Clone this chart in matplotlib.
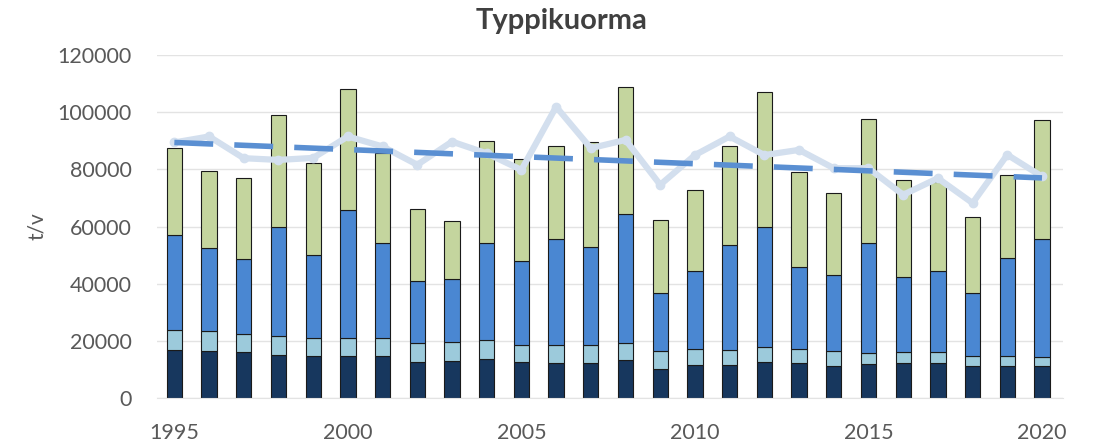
import matplotlib.pyplot as plt
import numpy as np

plt.rcParams['font.family'] = ['Lato', 'DejaVu Sans']

vuodet = list(range(1995, 2021))

# kuorman osat (t/v), alimmasta ylimpään
osa1 = [16900, 16500, 16000, 15100, 14600, 14800, 14600, 12500, 13000, 13700,
        12600, 12200, 12200, 13400, 10100, 11700, 11700, 12500, 12200, 11300,
        11900, 12200, 12200, 11100, 11100, 11100]
osa2 = [7000, 6800, 6500, 6700, 6400, 6200, 6400, 6700, 6500, 6700,
        6000, 6200, 6200, 5800, 6200, 5500, 5200, 5300, 4900, 5000,
        3800, 3900, 3900, 3700, 3700, 3200]
osa3 = [33200, 29100, 26200, 38000, 29100, 44800, 33200, 21900, 22200, 34000,
        29500, 37300, 34400, 45200, 20400, 27300, 36700, 42200, 28700, 26800,
        38700, 26200, 28500, 21900, 34100, 41400]
osa4 = [30300, 27100, 28400, 39200, 32000, 42300, 31400, 25000, 20100, 35500,
        35400, 32300, 36900, 44500, 25600, 28300, 34400, 47200, 33400, 28600,
        43100, 34000, 30900, 26800, 29200, 41600]

# vertailusarja ja sen lineaarinen trendi
vertailu = [89400, 91500, 83900, 83300, 84000, 91500, 88000, 81600, 89700, 85600,
            79800, 101900, 87400, 90300, 74600, 85000, 91500, 85000, 86800, 80400,
            80400, 71100, 76900, 68200, 85100, 77500]
trendi_alku, trendi_loppu = 89400, 77000

fig = plt.figure(figsize=(10.94, 4.43), dpi=100)
ax = fig.add_axes([0.1435, 0.1016, 0.828, 0.7742])

x = np.array(vuodet)
leveys = 0.44
reuna = dict(edgecolor='#1a1a1a', linewidth=0.8)
pohja = np.zeros(len(x))
for arvot, vari in [(osa1, '#17375e'), (osa2, '#9ccadb'),
                    (osa3, '#4a87d2'), (osa4, '#c4d59e')]:
    ax.bar(x, arvot, leveys, bottom=pohja, color=vari, zorder=2, **reuna)
    pohja = pohja + np.array(arvot)

ax.plot(x, vertailu, color='#d3dfee', linewidth=4.5, marker='o',
        markersize=6, zorder=3)
ax.plot([vuodet[0], vuodet[-1]], [trendi_alku, trendi_loppu], color='#5a8fd2',
        linewidth=4, linestyle=(0, (7, 3.8)), zorder=4)

ax.set_xlim(1994.5, 2020.6)
ax.set_ylim(0, 120000)
ax.set_yticks(range(0, 120001, 20000))
ax.set_xticks(range(1995, 2021, 5))
ax.yaxis.grid(True, color='#e3e3e3', linewidth=1)
ax.set_axisbelow(True)
for s in ['top', 'right', 'left']:
    ax.spines[s].set_visible(False)
ax.spines['bottom'].set_color('#e3e3e3')
ax.tick_params(axis='both', length=0, labelsize=15.5, colors='#595959')
ax.tick_params(axis='x', pad=18)
ax.tick_params(axis='y', pad=18)

ax.set_ylabel('t/v', fontsize=15, color='#595959', labelpad=8)
fig.text(0.513, 0.952, 'Typpikuorma', ha='center', va='center',
         fontsize=21, fontweight='bold', color='#404040')

plt.savefig('out.png', dpi=100)
